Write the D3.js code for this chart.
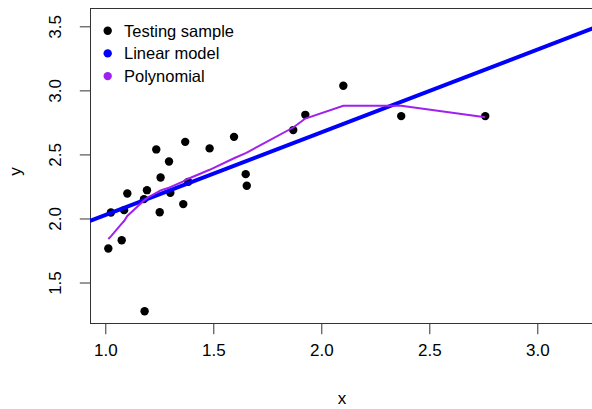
<!DOCTYPE html>
<html>
<head>
<meta charset="utf-8">
<script src="https://cdn.jsdelivr.net/npm/d3@7"></script>
<style>
    body { margin: 0; background: #fff; }
    svg { display: block; font-family: "Liberation Sans", Arial, sans-serif; }
    .axis path, .axis line { stroke: #333; }
    .axis text { font-size: 17px; fill: #000; font-family: "Liberation Sans", Arial, sans-serif; }
</style>
</head>
<body>
<div id="chart"></div>
<script>

// testing sample, sorted by x
let testX = [1.014, 1.026, 1.076, 1.087, 1.102, 1.179, 1.182, 1.193, 1.236, 1.252,
             1.256, 1.295, 1.301, 1.361, 1.370, 1.384, 1.483, 1.596, 1.650, 1.655,
             1.870, 1.926, 2.102, 2.370, 2.759];
let testY = [1.766, 2.047, 1.830, 2.065, 2.195, 2.151, 1.276, 2.221, 2.539, 2.049,
             2.320, 2.445, 2.200, 2.112, 2.598, 2.286, 2.547, 2.637, 2.346, 2.255,
             2.690, 2.809, 3.036, 2.799, 2.799];

// polynomial model predictions at the same x values
let polyY = [1.84, 1.86, 1.96, 1.98, 2.02, 2.14, 2.145, 2.16, 2.20, 2.215,
             2.22, 2.24, 2.245, 2.29, 2.30, 2.31, 2.38, 2.47, 2.51, 2.515,
             2.71, 2.78, 2.88, 2.88, 2.79];

// linear model: intercept, slope
let linCoef = [1.38, 0.646];

let xTicks = [1.0, 1.5, 2.0, 2.5, 3.0];
let yTicks = [1.5, 2.0, 2.5, 3.0, 3.5];

let legendLabels = ["Testing sample", "Linear model", "Polynomial"];
let legendColors = ["#000000", "#0000ff", "#a020f0"];


class modelPlot {

    constructor(_parentElement) {
        this.parentElement = _parentElement;
        this.initVis();
    }

    initVis() {
        let vis = this;

        vis.margin = { top: 8, right: -2, bottom: 86, left: 90 };
        vis.width = 592 - vis.margin.left - vis.margin.right;
        vis.height = 409 - vis.margin.top - vis.margin.bottom;

        vis.svg = d3.select("#" + vis.parentElement).append("svg")
            .attr("width", 592)
            .attr("height", 409)
            .append("g")
            .attr("transform", "translate(" + vis.margin.left + "," + vis.margin.top + ")");

        vis.x = d3.scaleLinear()
            .domain([0.9292, 3.2625])
            .range([0, vis.width]);

        vis.y = d3.scaleLinear()
            .domain([1.184, 3.643])
            .range([vis.height, 0]);

        vis.svg.append("defs").append("clipPath")
            .attr("id", "plot-clip")
            .append("rect")
            .attr("width", vis.width)
            .attr("height", vis.height);

        // Axes
        vis.xAxis = d3.axisBottom(vis.x)
            .tickValues(xTicks)
            .tickSize(10.7)
            .tickPadding(6)
            .tickFormat(d3.format(".1f"));

        vis.yAxis = d3.axisLeft(vis.y)
            .tickValues(yTicks)
            .tickSize(10.7)
            .tickFormat(d3.format(".1f"));

        let gx = vis.svg.append("g")
            .attr("class", "x-axis axis")
            .attr("transform", "translate(0," + (vis.height + 0.5) + ")")
            .call(vis.xAxis);
        gx.select(".domain").remove();
        gx.selectAll("text").attr("dy", "0.95em");

        let gy = vis.svg.append("g")
            .attr("class", "y-axis axis")
            .attr("transform", "translate(0.5,0)")
            .call(vis.yAxis);
        gy.select(".domain").remove();
        gy.selectAll("text")
            .attr("x", null)
            .attr("dy", null)
            .attr("transform", "translate(-35,0) rotate(-90)")
            .style("text-anchor", "middle")
            .attr("dominant-baseline", "central");

        // Frame
        vis.svg.append("rect")
            .attr("x", 0.5)
            .attr("y", 0.5)
            .attr("width", vis.width)
            .attr("height", vis.height)
            .style("fill", "none")
            .style("stroke", "#333")
            .style("stroke-width", 1);

        // Axis titles
        vis.svg.append("text")
            .attr("x", vis.width / 2)
            .attr("y", vis.height + 81)
            .style("text-anchor", "middle")
            .style("font-size", "17px")
            .text("x");

        vis.svg.append("text")
            .attr("transform", "translate(-75," + (vis.height / 2 + 6) + ") rotate(-90)")
            .style("text-anchor", "middle")
            .attr("dominant-baseline", "central")
            .style("font-size", "17px")
            .text("y");

        vis.plotArea = vis.svg.append("g")
            .attr("clip-path", "url(#plot-clip)");

        vis.updateVis();
    }

    updateVis() {
        let vis = this;

        // Testing sample points
        vis.plotArea.selectAll(".dot")
            .data(testX.map((d, i) => ({ x: d, y: testY[i] })))
            .enter().append("circle")
            .attr("class", "dot")
            .attr("cx", d => vis.x(d.x))
            .attr("cy", d => vis.y(d.y))
            .attr("r", 4.2)
            .style("fill", "#000");

        // Linear model (abline across the plot region)
        let xd = vis.x.domain();
        vis.plotArea.append("line")
            .attr("x1", vis.x(xd[0]))
            .attr("y1", vis.y(linCoef[0] + linCoef[1] * xd[0]))
            .attr("x2", vis.x(xd[1]))
            .attr("y2", vis.y(linCoef[0] + linCoef[1] * xd[1]))
            .style("stroke", legendColors[1])
            .style("stroke-width", 4);

        // Polynomial fit
        let line = d3.line()
            .x(d => vis.x(d.x))
            .y(d => vis.y(d.y));

        vis.plotArea.append("path")
            .datum(testX.map((d, i) => ({ x: d, y: polyY[i] })))
            .attr("d", line)
            .style("fill", "none")
            .style("stroke", legendColors[2])
            .style("stroke-width", 2);

        // Legend
        let legend = vis.svg.selectAll(".legend")
            .data(legendLabels)
            .enter().append("g")
            .attr("class", "legend")
            .attr("transform", (d, i) => "translate(17.7," + (22.7 + i * 22.7) + ")");

        legend.append("circle")
            .attr("r", 4.2)
            .style("fill", (d, i) => legendColors[i]);

        legend.append("text")
            .attr("x", 16.3)
            .attr("dominant-baseline", "central")
            .style("font-size", "16.5px")
            .style("fill", "#000")
            .text(d => d);
    }
}

new modelPlot("chart");

</script>
</body>
</html>
